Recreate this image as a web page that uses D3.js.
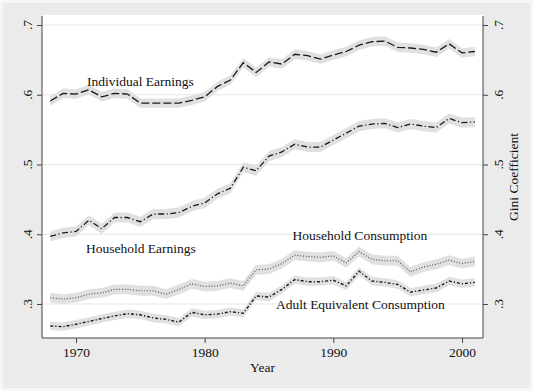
<!DOCTYPE html>
<html>
<head>
<meta charset="utf-8">
<script src="https://cdn.jsdelivr.net/npm/d3@7"></script>
<style>
  body { margin: 0; background: #f6f6f6; }
  svg { display: block; font-family: "Liberation Serif", "DejaVu Serif", serif; }
</style>
</head>
<body>
<div id="chart"></div>
<script>
var years = [1968, 1969, 1970, 1971, 1972, 1973, 1974, 1975, 1976, 1977, 1978, 1979,
  1980, 1981, 1982, 1983, 1984, 1985, 1986, 1987, 1988, 1989, 1990, 1991,
  1992, 1993, 1994, 1995, 1996, 1997, 1998, 1999, 2000, 2001];

var indivEarn = [.591, .602, .601, .607, .597, .602, .601, .588, .588, .588, .588, .592,
  .597, .612, .621, .646, .632, .647, .644, .658, .656, .651, .657, .662,
  .671, .676, .677, .668, .667, .665, .661, .673, .660, .662];

var hhEarn = [.397, .402, .404, .420, .408, .424, .424, .418, .429, .429, .431, .440,
  .445, .458, .466, .496, .491, .512, .518, .529, .525, .525, .535, .545,
  .555, .558, .559, .553, .558, .555, .553, .566, .560, .561];

var hhCons = [.309, .307, .309, .314, .316, .321, .321, .319, .319, .314, .321, .329,
  .325, .326, .330, .326, .349, .350, .358, .370, .368, .367, .369, .359,
  .375, .364, .362, .362, .346, .353, .357, .363, .358, .361];

var adultCons = [.2685, .2675, .271, .275, .279, .283, .286, .2845, .280, .278, .274, .288,
  .2845, .2855, .289, .2866, .3115, .310, .321, .335, .332, .332, .334, .326,
  .347, .333, .331, .328, .317, .320, .323, .333, .329, .331];

// half width of the grey confidence band, per series
var bandWidth = [.0068, .0072, .007, .006];

var yTicks = [.3, .4, .5, .6, .7];
var yTickLabels = ['.3', '.4', '.5', '.6', '.7'];
var xTicks = [1970, 1980, 1990, 2000];

var seriesNames = ['Individual Earnings', 'Household Earnings', 'Household Consumption', 'Adult Equivalent Consumption'];

var W = 533, H = 391;
var plot = { left: 42, right: 483, top: 15, bottom: 338 };

var svg = d3.select('#chart').append('svg')
  .attr('width', W)
  .attr('height', H);

// grey graph region and white plot region
svg.append('rect')
  .attr('x', 3).attr('y', 3)
  .attr('width', W - 6).attr('height', H - 6)
  .attr('fill', '#ebebeb');

svg.append('rect')
  .attr('x', plot.left).attr('y', plot.top)
  .attr('width', plot.right - plot.left).attr('height', plot.bottom - plot.top)
  .attr('fill', '#fff');

var x = d3.scaleLinear().domain([1970, 2000]).range([76, 462]);
var y = d3.scaleLinear().domain([.3, .7]).range([304, 25]);

// grid lines
svg.append('g').selectAll('line')
  .data(yTicks)
  .enter().append('line')
  .attr('x1', plot.left).attr('x2', plot.right)
  .attr('y1', function(d) { return y(d); })
  .attr('y2', function(d) { return y(d); })
  .attr('stroke', '#e6e6e6')
  .attr('stroke-width', 1);

var series = [
  { name: seriesNames[0], values: indivEarn, se: bandWidth[0], dash: '8,3', color: '#1a1a1a', width: 1.3 },
  { name: seriesNames[1], values: hhEarn, se: bandWidth[1], dash: '6,2.5,1.2,2.5', color: '#1a1a1a', width: 1.3 },
  { name: seriesNames[2], values: hhCons, se: bandWidth[2], dash: '1,1.8', color: '#555', width: 1.2 },
  { name: seriesNames[3], values: adultCons, se: bandWidth[3], dash: '3,2,1.2,2', color: '#1a1a1a', width: 1.4 }
];

var area = d3.area()
  .x(function(d) { return x(d.year); })
  .y0(function(d) { return y(d.v - d.se); })
  .y1(function(d) { return y(d.v + d.se); });

var line = d3.line()
  .x(function(d) { return x(d.year); })
  .y(function(d) { return y(d.v); });

series.forEach(function(s) {
  var pts = years.map(function(yr, i) { return { year: yr, v: s.values[i], se: s.se }; });
  svg.append('path')
    .datum(pts)
    .attr('d', area)
    .attr('fill', '#e0e0e0');
});

series.forEach(function(s) {
  var pts = years.map(function(yr, i) { return { year: yr, v: s.values[i] }; });
  svg.append('path')
    .datum(pts)
    .attr('d', line)
    .attr('fill', 'none')
    .attr('stroke', s.color)
    .attr('stroke-width', s.width)
    .attr('stroke-dasharray', s.dash);
});

// axes
var axisLeft = d3.axisLeft(y).tickValues(yTicks).tickSize(5).tickFormat('');
var axisRight = d3.axisRight(y).tickValues(yTicks).tickSize(5).tickFormat('');
var axisBottom = d3.axisBottom(x).tickValues(xTicks).tickSize(5).tickPadding(4).tickFormat(d3.format('d'));

function styleAxis(g) {
  g.select('.domain').remove();
  g.selectAll('line').attr('stroke', '#444');
  g.selectAll('text').attr('font-family', '"Liberation Serif", serif').attr('font-size', 13.5).attr('fill', '#111');
}

svg.append('g').attr('transform', 'translate(' + plot.left + ',0)').call(axisLeft).call(styleAxis);
svg.append('g').attr('transform', 'translate(' + plot.right + ',0)').call(axisRight).call(styleAxis);
svg.append('g').attr('transform', 'translate(0,' + plot.bottom + ')').call(axisBottom).call(styleAxis);

// axis lines
svg.append('path')
  .attr('d', 'M' + plot.left + ',' + (plot.top + 1) + 'V' + plot.bottom + 'H' + plot.right + 'V' + (plot.top + 1))
  .attr('fill', 'none')
  .attr('stroke', '#444')
  .attr('stroke-width', 1);

// rotated y tick labels on both sides
function yLabels(xpos) {
  svg.append('g').selectAll('text')
    .data(yTicks)
    .enter().append('text')
    .attr('transform', function(d) { return 'translate(' + xpos + ',' + y(d) + ') rotate(-90)'; })
    .attr('text-anchor', 'middle')
    .attr('font-size', 13.5)
    .attr('fill', '#111')
    .text(function(d, i) { return yTickLabels[i]; });
}
yLabels(32);
yLabels(503);

// axis titles
svg.append('text')
  .attr('x', (plot.left + plot.right) / 2)
  .attr('y', 372)
  .attr('text-anchor', 'middle')
  .attr('font-size', 13.5)
  .attr('fill', '#111')
  .text('Year');

svg.append('text')
  .attr('transform', 'translate(518,177) rotate(-90)')
  .attr('text-anchor', 'middle')
  .attr('font-size', 13.5)
  .attr('fill', '#111')
  .text('Gini Coefficient');

// series labels
var labelPos = [[87, 85.5], [86, 253], [292.5, 239.5], [276, 308.5]];
svg.append('g').selectAll('text')
  .data(seriesNames)
  .enter().append('text')
  .attr('x', function(d, i) { return labelPos[i][0]; })
  .attr('y', function(d, i) { return labelPos[i][1]; })
  .attr('font-size', 13.5)
  .attr('fill', '#111')
  .text(function(d) { return d; });
</script>
</body>
</html>
